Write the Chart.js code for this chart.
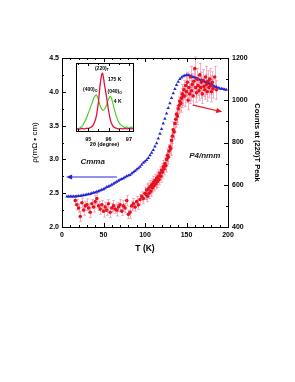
<!DOCTYPE html>
<html>
<head>
<meta charset="utf-8">
<script src="https://cdn.jsdelivr.net/npm/chart.js@4.4.1/dist/chart.umd.min.js"></script>
<style>
  body { margin: 0; background: #fff; }
  #wrap { position: relative; width: 295px; height: 382px; }
  #main { position: absolute; left: 0; top: 0; }
  #inset { position: absolute; left: 70px; top: 60px; }
</style>
</head>
<body>
<div id="wrap">
  <canvas id="main" width="295" height="382"></canvas>
  <canvas id="inset" width="70" height="92"></canvas>
</div>
<script>
// resistivity (left axis), blue triangles
const blueT = [6, 8, 10, 12, 14, 16, 18, 20, 22, 24, 26, 28, 30, 32, 34, 36, 38, 40, 42, 44, 46, 48, 50,
  52, 54, 56, 58, 60, 62, 64, 66, 68, 70, 72, 74, 76, 78, 80, 82, 84, 86, 88, 90, 92, 94, 96, 98, 100,
  102, 104, 106, 108, 110, 112, 114, 116, 118, 120, 122, 124, 126, 128, 130, 132, 134, 136, 138, 140,
  142, 144, 146, 148, 150, 152, 154, 156, 158, 160, 162, 164, 166, 168, 170, 172, 174, 176, 178, 180,
  182, 184, 186, 188, 190, 192, 194, 196, 198];
const blueRho = [2.45, 2.45, 2.45, 2.45, 2.45, 2.45, 2.455, 2.46, 2.46, 2.465, 2.47, 2.475, 2.48, 2.485,
  2.49, 2.50, 2.505, 2.51, 2.52, 2.53, 2.54, 2.55, 2.56, 2.575, 2.59, 2.60, 2.61, 2.625, 2.64, 2.655,
  2.67, 2.685, 2.70, 2.71, 2.72, 2.735, 2.75, 2.76, 2.77, 2.79, 2.81, 2.83, 2.85, 2.87, 2.89, 2.92,
  2.95, 2.97, 2.99, 3.02, 3.06, 3.10, 3.14, 3.19, 3.24, 3.31, 3.38, 3.45, 3.53, 3.60, 3.68, 3.76, 3.83,
  3.91, 3.98, 4.04, 4.10, 4.15, 4.19, 4.21, 4.23, 4.24, 4.25, 4.25, 4.24, 4.23, 4.22, 4.21, 4.20, 4.19,
  4.18, 4.17, 4.16, 4.15, 4.14, 4.13, 4.12, 4.11, 4.09, 4.08, 4.07, 4.06, 4.05, 4.045, 4.04, 4.035, 4.03];

// counts at (220)T peak (right axis), red points with error bars
const redT = [16, 18, 20, 22, 24, 26, 28, 30, 32, 34, 36, 38, 40, 42, 44, 46, 48, 50, 52, 54, 56, 58, 60,
  62, 64, 66, 68, 70, 72, 74, 76, 78, 80, 82, 84, 86, 88, 90, 92, 94, 96, 98, 100,
  101, 102, 103, 104, 105, 106, 107, 108, 109, 110, 111, 112, 113, 114, 115, 116, 117, 118, 119, 120,
  121, 122, 123, 124, 125, 126, 127, 128, 129, 130, 131, 132, 133, 134, 135, 136, 137, 138, 139, 140,
  141, 142, 143, 144, 145, 146,
  147, 148, 149, 150, 151, 152, 153, 154, 155, 156, 157, 158, 159, 160, 161, 162, 163, 164, 165, 166,
  167, 168, 169, 170, 171, 172, 173, 174, 175, 176, 177, 178, 179, 180, 181, 182, 184, 186];
const redCounts = [525, 505, 490, 450, 515, 480, 500, 505, 490, 470, 510, 495, 520, 535, 500, 485, 505,
  475, 495, 480, 510, 470, 490, 500, 485, 480, 495, 505, 475, 500, 490, 525, 460, 470, 500, 510, 495,
  520, 505, 530, 545, 535, 560,
  555, 575, 545, 580, 560, 590, 570, 600, 585, 610, 595, 620, 605, 630, 615, 640, 625, 655, 640, 670,
  660, 685, 675, 700, 690, 720, 740, 730, 760, 780, 770, 810, 830, 860, 850, 890, 910, 935, 925, 960,
  975, 995, 985, 1010, 1030, 1020,
  1050, 1020, 1070, 1040, 1085, 1000, 1060, 1030, 1110, 1045, 1075, 1020, 1090, 1150, 1060, 1035, 1100,
  1070, 1045, 1120, 1060, 1085, 1030, 1095, 1065, 1050, 1110, 1075, 1040, 1090, 1060, 1100, 1070, 1040,
  1085, 1055, 1110, 1050];
const redErr = [22, 25, 20, 25, 22, 25, 20, 28, 22, 25, 20, 25, 30, 25, 22, 25, 20, 28, 22, 25, 20, 25,
  22, 25, 20, 28, 22, 25, 20, 25, 22, 25, 20, 28, 22, 25, 20, 25, 22, 25, 22, 25, 28,
  25, 28, 25, 28, 25, 30, 25, 28, 25, 30, 25, 28, 25, 30, 28, 30, 25, 30, 28, 30, 28, 30, 28, 30, 30,
  32, 30, 32, 30, 35, 32, 35, 35, 38, 35, 40, 38, 40, 40, 42, 40, 45, 42, 45, 45, 45,
  45, 50, 45, 50, 48, 45, 50, 45, 50, 48, 50, 45, 50, 55, 48, 45, 50, 48, 45, 55, 50, 48, 45, 50, 48,
  45, 50, 48, 45, 50, 48, 50, 45, 48, 50, 45, 50, 45];

// inset: 2-theta scans
const insetAngle = [94.4, 94.5, 94.6, 94.7, 94.8, 94.9, 95.0, 95.1, 95.2, 95.3, 95.4, 95.5, 95.6, 95.7,
  95.8, 95.9, 96.0, 96.1, 96.2, 96.3, 96.4, 96.5, 96.6, 96.7, 96.8, 96.9, 97.0, 97.1, 97.2];
const inset175K = [0.04, 0.03, 0.03, 0.04, 0.03, 0.04, 0.04, 0.05, 0.07, 0.12, 0.22, 0.42, 0.72, 0.85,
  0.68, 0.50, 0.30, 0.15, 0.08, 0.05, 0.04, 0.03, 0.04, 0.03, 0.04, 0.03, 0.04, 0.03, 0.04];
const inset4K = [0.04, 0.03, 0.05, 0.07, 0.12, 0.18, 0.26, 0.34, 0.42, 0.50, 0.53, 0.46, 0.36, 0.31,
  0.32, 0.38, 0.47, 0.51, 0.42, 0.30, 0.20, 0.13, 0.09, 0.07, 0.05, 0.06, 0.04, 0.06, 0.04];

const xTicks = [0, 50, 100, 150, 200];
const rhoTicks = [2.0, 2.5, 3.0, 3.5, 4.0, 4.5];
const countTicks = [400, 600, 800, 1000, 1200];
const insetTicks = [95, 96, 97];

const FONT = "'Liberation Sans', Arial, sans-serif";
const BLUE = "#2424d4";
const RED = "#e8101c";

// inward ticks and box around plot area
const frameTicks = {
  id: "frameTicks",
  afterDatasetsDraw(chart) {
    const { ctx, chartArea: a, scales } = chart;
    ctx.save();
    ctx.strokeStyle = "#000";
    ctx.lineWidth = 1;
    ctx.strokeRect(Math.round(a.left) + 0.5, Math.round(a.top) + 0.5,
      Math.round(a.right - a.left), Math.round(a.bottom - a.top));
    ctx.beginPath();
    for (let v = 0; v <= 200; v += 10) {
      const x = Math.round(scales.x.getPixelForValue(v)) + 0.5;
      const len = v % 50 === 0 ? 4 : 2;
      ctx.moveTo(x, a.bottom); ctx.lineTo(x, a.bottom - len);
      ctx.moveTo(x, a.top); ctx.lineTo(x, a.top + len);
    }
    for (let i = 0; i <= 10; i++) {
      const y = Math.round(scales.y.getPixelForValue(2 + i * 0.25)) + 0.5;
      const len = i % 2 === 0 ? 4 : 2;
      ctx.moveTo(a.left, y); ctx.lineTo(a.left + len, y);
    }
    for (let v = 400; v <= 1200; v += 100) {
      const y = Math.round(scales.y2.getPixelForValue(v)) + 0.5;
      const len = v % 200 === 0 ? 4 : 2;
      ctx.moveTo(a.right, y); ctx.lineTo(a.right - len, y);
    }
    ctx.stroke();
    ctx.restore();
  }
};

// error bars behind the red points
const errorBars = {
  id: "errorBars",
  beforeDatasetsDraw(chart) {
    const { ctx, scales } = chart;
    ctx.save();
    ctx.strokeStyle = "rgba(235, 90, 130, 0.45)";
    ctx.lineWidth = 1;
    ctx.beginPath();
    redT.forEach((t, i) => {
      const x = Math.round(scales.x.getPixelForValue(t)) + 0.5;
      const y1 = scales.y2.getPixelForValue(redCounts[i] - redErr[i]);
      const y2 = scales.y2.getPixelForValue(redCounts[i] + redErr[i]);
      ctx.moveTo(x, y1); ctx.lineTo(x, y2);
      ctx.moveTo(x - 1.5, y1); ctx.lineTo(x + 1.5, y1);
      ctx.moveTo(x - 1.5, y2); ctx.lineTo(x + 1.5, y2);
    });
    ctx.stroke();
    ctx.restore();
  }
};

// phase labels and arrows
const blueArrow = { from: [66, 2.74], to: [5, 2.74] };
const redArrow = { from: [158, 977], to: [193, 945] };

function drawArrow(ctx, x1, y1, x2, y2, color) {
  const ang = Math.atan2(y2 - y1, x2 - x1);
  ctx.strokeStyle = color;
  ctx.fillStyle = color;
  ctx.lineWidth = 1.2;
  ctx.beginPath();
  ctx.moveTo(x1, y1);
  ctx.lineTo(x2 - 4 * Math.cos(ang), y2 - 4 * Math.sin(ang));
  ctx.stroke();
  ctx.beginPath();
  ctx.moveTo(x2, y2);
  ctx.lineTo(x2 - 6 * Math.cos(ang) + 2.5 * Math.sin(ang), y2 - 6 * Math.sin(ang) - 2.5 * Math.cos(ang));
  ctx.lineTo(x2 - 6 * Math.cos(ang) - 2.5 * Math.sin(ang), y2 - 6 * Math.sin(ang) + 2.5 * Math.cos(ang));
  ctx.closePath();
  ctx.fill();
}

const annotations = {
  id: "annotations",
  afterDatasetsDraw(chart) {
    const { ctx, scales } = chart;
    const x = scales.x, y = scales.y, y2 = scales.y2;
    ctx.save();
    drawArrow(ctx, x.getPixelForValue(blueArrow.from[0]), y.getPixelForValue(blueArrow.from[1]),
      x.getPixelForValue(blueArrow.to[0]), y.getPixelForValue(blueArrow.to[1]), BLUE);
    drawArrow(ctx, x.getPixelForValue(redArrow.from[0]), y2.getPixelForValue(redArrow.from[1]),
      x.getPixelForValue(redArrow.to[0]), y2.getPixelForValue(redArrow.to[1]), RED);
    ctx.fillStyle = "#222";
    ctx.font = "italic bold 8px " + FONT;
    ctx.textAlign = "center";
    ctx.textBaseline = "middle";
    ctx.fillText("Cmma", x.getPixelForValue(37), y.getPixelForValue(2.96));
    ctx.fillText("P4/nmm", x.getPixelForValue(172), y2.getPixelForValue(736));
    ctx.restore();
  }
};

new Chart(document.getElementById("main").getContext("2d"), {
  type: "scatter",
  data: {
    datasets: [
      {
        label: "Counts",
        data: redT.map((t, i) => ({ x: t, y: redCounts[i] })),
        yAxisID: "y2",
        pointStyle: "circle",
        pointRadius: 1.8,
        backgroundColor: RED,
        borderWidth: 0,
      },
      {
        label: "rho",
        data: blueT.map((t, i) => ({ x: t, y: blueRho[i] })),
        yAxisID: "y",
        pointStyle: "triangle",
        pointRadius: 2,
        backgroundColor: BLUE,
        borderWidth: 0,
      },
    ],
  },
  options: {
    responsive: false,
    animation: false,
    devicePixelRatio: 1,
    layout: { padding: { left: 30, right: 33, top: 58, bottom: 123 } },
    plugins: { legend: { display: false }, tooltip: { enabled: false } },
    scales: {
      x: {
        type: "linear", min: 0, max: 200,
        afterBuildTicks: (s) => { s.ticks = xTicks.map((v) => ({ value: v })); },
        afterFit: (s) => { s.height = 32; },
        grid: { display: false, drawTicks: false }, border: { display: false },
        ticks: { color: "#000", font: { family: FONT, size: 7, weight: "bold" }, padding: 4 },
        title: { display: true, text: "T (K)", color: "#000",
          font: { family: FONT, size: 8.5, weight: "bold" }, padding: { top: 2, bottom: 5 } },
      },
      y: {
        type: "linear", position: "left", min: 2.0, max: 4.5,
        afterBuildTicks: (s) => { s.ticks = rhoTicks.map((v) => ({ value: v })); },
        afterFit: (s) => { s.width = 32; },
        grid: { display: false, drawTicks: false }, border: { display: false },
        ticks: { color: "#000", font: { family: FONT, size: 7, weight: "bold" }, padding: 3,
          callback: (v) => v.toFixed(1) },
        title: { display: true, text: "ρ(mΩ • cm)", color: "#000",
          font: { family: FONT, size: 8 }, padding: 0 },
      },
      y2: {
        type: "linear", position: "right", min: 400, max: 1200,
        afterBuildTicks: (s) => { s.ticks = countTicks.map((v) => ({ value: v })); },
        afterFit: (s) => { s.width = 34; },
        grid: { display: false, drawTicks: false }, border: { display: false },
        ticks: { color: "#000", font: { family: FONT, size: 7, weight: "bold" }, padding: 4,
          callback: (v) => String(v) },
        title: { display: true, text: "Counts at (220)T Peak", color: "#000",
          font: { family: FONT, size: 7.5, weight: "bold" }, padding: 0 },
      },
    },
  },
  plugins: [errorBars, frameTicks, annotations],
});

// inset chart
const insetFrame = {
  id: "insetFrame",
  beforeDraw(chart) {
    const { ctx, chartArea: a } = chart;
    ctx.save();
    ctx.fillStyle = "#fff";
    ctx.fillRect(a.left, a.top, a.right - a.left, a.bottom - a.top);
    ctx.restore();
  },
  afterDatasetsDraw(chart) {
    const { ctx, chartArea: a, scales } = chart;
    ctx.save();
    ctx.strokeStyle = "#000";
    ctx.lineWidth = 1;
    ctx.strokeRect(Math.round(a.left) + 0.5, Math.round(a.top) + 0.5,
      Math.round(a.right - a.left), Math.round(a.bottom - a.top));
    ctx.beginPath();
    for (let v = 94.5; v <= 97.01; v += 0.5) {
      const x = Math.round(scales.x.getPixelForValue(v)) + 0.5;
      const len = Math.abs(v - Math.round(v)) < 0.01 ? 3 : 2;
      ctx.moveTo(x, a.bottom); ctx.lineTo(x, a.bottom - len);
      ctx.moveTo(x, a.top); ctx.lineTo(x, a.top + len);
    }
    ctx.stroke();

    const px = (v) => scales.x.getPixelForValue(v);
    const py = (v) => scales.y.getPixelForValue(v);
    ctx.fillStyle = "#000";
    ctx.textBaseline = "middle";
    const label = (main, sub, xv, yv) => {
      ctx.font = "bold 5px " + FONT;
      const w1 = ctx.measureText(main).width;
      ctx.font = "bold 3.5px " + FONT;
      const w2 = sub ? ctx.measureText(sub).width : 0;
      const x0 = px(xv) - (w1 + w2) / 2;
      ctx.font = "bold 5px " + FONT;
      ctx.textAlign = "left";
      ctx.fillText(main, x0, py(yv));
      if (sub) {
        ctx.font = "bold 3.5px " + FONT;
        ctx.fillText(sub, x0 + w1, py(yv) + 1.8);
      }
    };
    label("(220)", "T", 95.67, 0.92);
    label("175 K", "", 96.3, 0.76);
    label("(400)", "O", 95.1, 0.61);
    label("(040)", "O", 96.3, 0.58);
    label("4 K", "", 96.45, 0.43);
    ctx.restore();
  }
};

new Chart(document.getElementById("inset").getContext("2d"), {
  type: "line",
  data: {
    datasets: [
      {
        label: "175 K",
        data: insetAngle.map((a, i) => ({ x: a, y: inset175K[i] })),
        borderColor: "#e8103a",
        borderWidth: 1.3,
        pointRadius: 0,
        tension: 0.35,
      },
      {
        label: "4 K",
        data: insetAngle.map((a, i) => ({ x: a, y: inset4K[i] })),
        borderColor: "#3ccc1a",
        borderWidth: 1.1,
        pointRadius: 0,
        tension: 0.35,
      },
    ],
  },
  options: {
    responsive: false,
    animation: false,
    devicePixelRatio: 1,
    layout: { padding: { left: 6, right: 7, top: 3, bottom: 4 } },
    plugins: { legend: { display: false }, tooltip: { enabled: false } },
    scales: {
      x: {
        type: "linear", min: 94.4, max: 97.2,
        afterBuildTicks: (s) => { s.ticks = insetTicks.map((v) => ({ value: v })); },
        afterFit: (s) => { s.height = 17; },
        grid: { display: false, drawTicks: false }, border: { display: false },
        ticks: { color: "#000", font: { family: FONT, size: 5.5, weight: "bold" }, padding: 5 },
        title: { display: true, text: "2θ (degree)", color: "#000",
          font: { family: FONT, size: 5.5, weight: "bold" }, padding: 0 },
      },
      y: { display: false, min: 0, max: 1 },
    },
  },
  plugins: [insetFrame],
});
</script>
</body>
</html>
